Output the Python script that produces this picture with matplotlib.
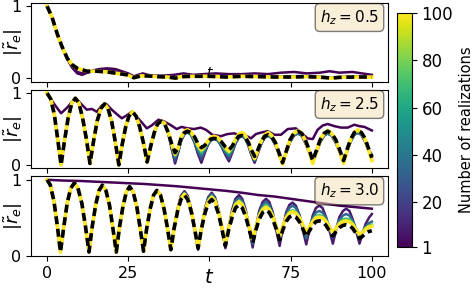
import matplotlib.pyplot as plt
from matplotlib import colors, cm

# ---- h_z = 0.5 panel ----
p1_t = [0, 1.5, 3.1, 4.6, 6.2, 7.7, 9.3, 10.8, 12.3, 15.4, 18.5, 21.6, 24.7, 26.7, 28.8, 30.9,
        34.0, 37.0, 39.6, 41.2, 45, 50, 55, 60, 65, 70, 75, 80, 85, 87.4, 90, 95, 100]
p1_exact = [1.0, 0.85, 0.62, 0.44, 0.28, 0.19, 0.14, 0.12, 0.10, 0.10, 0.09, 0.07, 0.05, 0.01, 0.035, 0.035,
            0.025, 0.02, 0.005, 0.025, 0.03, 0.03, 0.02, 0.03, 0.025, 0.02, 0.02, 0.025, 0.015, 0.005, 0.015, 0.02, 0.02]
p1_n3 = [1.0, 0.85, 0.62, 0.44, 0.27, 0.16, 0.09, 0.07, 0.08, 0.11, 0.12, 0.09, 0.06, 0.02, 0.05, 0.04,
         0.03, 0.03, 0.01, 0.03, 0.04, 0.04, 0.03, 0.04, 0.03, 0.03, 0.03, 0.035, 0.02, 0.01, 0.02, 0.03, 0.025]
p1_n1_t = [0, 1.5, 3.1, 4.6, 6.2, 7.7, 9.3, 10.8, 12.3, 14, 16, 18.5, 21, 23, 25, 26.7, 28, 29.5, 31, 33,
           36, 39, 42, 45, 48, 52, 56, 60, 64, 68, 72, 76, 80, 84, 87, 90, 94, 97, 100]
p1_n1 = [1.0, 0.85, 0.62, 0.44, 0.27, 0.15, 0.07, 0.05, 0.08, 0.11, 0.13, 0.14, 0.13, 0.10, 0.07, 0.03, 0.05, 0.07, 0.05, 0.04,
         0.04, 0.05, 0.07, 0.05, 0.06, 0.07, 0.06, 0.06, 0.07, 0.06, 0.08, 0.09, 0.07, 0.08, 0.10, 0.08, 0.09, 0.07, 0.05]

# ---- h_z = 2.5 panel ----
p2_t_head = [0, 1.1, 2.2, 3.2, 4.3, 5.4, 6.5, 7.6, 8.7, 9.8, 10.9, 12.1, 13.2, 14.3, 15.4, 16.6, 17.7,
             18.8, 19.9, 21.0, 22.1, 23.1, 24.2, 25.2, 26.3, 27.4, 28.5, 29.7, 30.8, 31.9, 33.0, 34.0, 35.1]
p2_head = [1.0, 0.92, 0.71, 0.38, 0.0, 0.35, 0.66, 0.86, 0.93, 0.86, 0.66, 0.36, 0.02, 0.33, 0.61, 0.79, 0.85,
           0.78, 0.60, 0.32, 0.0, 0.28, 0.53, 0.68, 0.74, 0.68, 0.53, 0.30, 0.04, 0.26, 0.45, 0.57, 0.61]
p2_t_tail = [36.2, 37.3, 38.3, 39.4, 40.4, 41.3, 42.3, 43.2, 44.3, 45.4, 46.4, 47.5, 48.5, 49.5, 50.4, 51.4,
             52.6, 53.7, 54.9, 56.0, 57.0, 58.0, 59.0, 60.0, 61.0, 62.0, 62.9, 63.9, 64.9, 66.0, 67.0, 68.1,
             69.2, 70.3, 71.4, 72.5, 73.7, 74.8, 76.0, 77.2, 78.4, 79.5, 80.7, 81.8, 83.0, 84.1, 85.3, 86.4,
             87.6, 88.9, 90.1, 91.3, 92.4, 93.5, 94.6, 95.7, 96.8, 97.9, 98.9, 100]
p2_exact_tail = [0.57, 0.45, 0.30, 0.17, 0.24, 0.38, 0.45, 0.47, 0.45, 0.39, 0.30, 0.24, 0.27, 0.32, 0.36, 0.37,
                 0.36, 0.32, 0.25, 0.21, 0.26, 0.34, 0.40, 0.41, 0.39, 0.31, 0.21, 0.12, 0.21, 0.33, 0.40, 0.42,
                 0.39, 0.31, 0.17, 0.03, 0.20, 0.35, 0.44, 0.47, 0.44, 0.35, 0.21, 0.06, 0.21, 0.35, 0.44, 0.47,
                 0.44, 0.35, 0.21, 0.06, 0.22, 0.36, 0.45, 0.48, 0.45, 0.37, 0.24, 0.10]
p2_n100_tail = [0.58, 0.46, 0.30, 0.15, 0.24, 0.39, 0.47, 0.49, 0.46, 0.38, 0.28, 0.21, 0.26, 0.33, 0.38, 0.40,
                0.38, 0.32, 0.24, 0.19, 0.26, 0.36, 0.43, 0.45, 0.42, 0.32, 0.20, 0.09, 0.20, 0.34, 0.42, 0.45,
                0.41, 0.31, 0.16, 0.01, 0.19, 0.35, 0.44, 0.48, 0.44, 0.34, 0.19, 0.02, 0.19, 0.35, 0.44, 0.48,
                0.44, 0.34, 0.19, 0.02, 0.20, 0.36, 0.45, 0.49, 0.45, 0.36, 0.22, 0.06]
p2_n70_tail = [0.57, 0.45, 0.28, 0.13, 0.22, 0.37, 0.45, 0.47, 0.44, 0.36, 0.25, 0.17, 0.23, 0.31, 0.36, 0.38,
               0.36, 0.30, 0.21, 0.16, 0.23, 0.34, 0.41, 0.43, 0.40, 0.30, 0.19, 0.08, 0.19, 0.33, 0.40, 0.43,
               0.39, 0.30, 0.16, 0.03, 0.19, 0.34, 0.43, 0.46, 0.43, 0.33, 0.19, 0.05, 0.19, 0.34, 0.43, 0.46,
               0.43, 0.33, 0.19, 0.05, 0.20, 0.35, 0.44, 0.47, 0.44, 0.35, 0.22, 0.09]
p2_n40_tail = [0.57, 0.44, 0.27, 0.10, 0.20, 0.35, 0.43, 0.45, 0.42, 0.33, 0.21, 0.12, 0.20, 0.29, 0.34, 0.36,
               0.34, 0.27, 0.18, 0.12, 0.20, 0.31, 0.38, 0.40, 0.37, 0.28, 0.17, 0.07, 0.18, 0.31, 0.38, 0.41,
               0.37, 0.28, 0.15, 0.04, 0.18, 0.32, 0.41, 0.44, 0.41, 0.32, 0.19, 0.08, 0.18, 0.32, 0.41, 0.44,
               0.41, 0.32, 0.19, 0.08, 0.19, 0.33, 0.42, 0.45, 0.42, 0.33, 0.21, 0.13]
p2_n20_tail = [0.57, 0.44, 0.25, 0.05, 0.19, 0.34, 0.43, 0.46, 0.42, 0.32, 0.18, 0.07, 0.18, 0.28, 0.34, 0.37,
               0.34, 0.26, 0.16, 0.08, 0.18, 0.30, 0.38, 0.40, 0.37, 0.27, 0.15, 0.05, 0.17, 0.30, 0.38, 0.41,
               0.37, 0.28, 0.15, 0.04, 0.18, 0.32, 0.41, 0.44, 0.41, 0.31, 0.18, 0.07, 0.18, 0.32, 0.41, 0.44,
               0.41, 0.31, 0.18, 0.07, 0.19, 0.33, 0.42, 0.45, 0.42, 0.33, 0.21, 0.13]
p2_n5_tail = [0.58, 0.44, 0.24, 0.02, 0.18, 0.34, 0.44, 0.47, 0.43, 0.31, 0.16, 0.03, 0.16, 0.28, 0.35, 0.38,
              0.35, 0.26, 0.14, 0.05, 0.17, 0.30, 0.38, 0.41, 0.37, 0.27, 0.14, 0.03, 0.16, 0.30, 0.38, 0.41,
              0.38, 0.28, 0.15, 0.04, 0.18, 0.32, 0.41, 0.44, 0.41, 0.31, 0.18, 0.06, 0.18, 0.32, 0.41, 0.44,
              0.41, 0.31, 0.18, 0.06, 0.19, 0.33, 0.42, 0.45, 0.42, 0.33, 0.22, 0.14]
p2_n1_t = [0, 2.0, 4.3, 6.2, 7.7, 9.0, 10.7, 12.2, 13.8, 15.3, 16.9, 18.2, 19.9, 21.4, 23.0, 24.5, 26.1, 27.6, 29.2,
           30.7, 32.2, 34.3, 35.8, 37.9, 39.9, 41.4, 43.2, 45.3, 47.3, 48.9, 50.9, 53.5, 55.5, 57.6, 59.1, 60.7,
           62.8, 64.3, 65.8, 67.9, 70.0, 72.0, 74.1, 76.6, 78.7, 80.2, 81.8, 83.3, 84.9, 86.4, 88.5, 90.5, 92.6,
           94.6, 96.2, 97.7, 100]
p2_n1 = [1.0, 0.86, 0.72, 0.80, 0.88, 0.92, 0.84, 0.77, 0.78, 0.74, 0.83, 0.85, 0.77, 0.71, 0.65, 0.69, 0.74, 0.67, 0.59,
         0.51, 0.55, 0.63, 0.61, 0.56, 0.50, 0.53, 0.51, 0.50, 0.52, 0.49, 0.42, 0.40, 0.43, 0.44, 0.42, 0.42,
         0.37, 0.43, 0.45, 0.47, 0.42, 0.42, 0.50, 0.51, 0.43, 0.37, 0.36, 0.49, 0.55, 0.57, 0.54, 0.52, 0.52,
         0.56, 0.54, 0.53, 0.48]

# ---- h_z = 3.0 panel ----
p3_t_head = [0, 1.0, 2.1, 3.1, 4.1, 5.2, 6.2, 7.3, 8.4, 9.5, 10.7, 11.8, 12.9, 13.9, 15.0, 16.0, 17.0, 18.1, 19.2,
             20.2, 21.3, 22.3, 23.4, 24.4, 25.4, 26.5, 27.6, 28.6, 29.7, 30.7, 31.8, 32.8, 33.8, 34.9, 36.0, 37.0, 38.1]
p3_head = [1.0, 0.93, 0.72, 0.41, 0.05, 0.40, 0.70, 0.89, 0.96, 0.89, 0.69, 0.39, 0.05, 0.39, 0.68, 0.86, 0.93, 0.86, 0.67,
           0.38, 0.05, 0.38, 0.66, 0.84, 0.91, 0.84, 0.65, 0.38, 0.06, 0.37, 0.63, 0.80, 0.86, 0.80, 0.62, 0.38, 0.08]
p3_t_tail = [39.1, 40.2, 41.2, 42.3, 43.3, 44.4, 45.4, 46.5, 47.5, 48.6, 49.6, 50.7, 51.7, 52.8, 53.8, 54.9,
             55.9, 57.0, 58.0, 59.1, 60.1, 61.2, 62.2, 63.3, 64.3, 65.3, 66.4, 67.4, 68.4, 69.5, 70.5, 71.6,
             72.6, 73.6, 74.6, 75.6, 76.6, 77.7, 78.7, 79.8, 80.8, 81.8, 82.8, 83.8, 84.8, 85.9, 86.9, 88.0,
             89.0, 90.0, 91.1, 92.1, 93.1, 94.1, 95.2, 96.2, 97.2, 98.1, 99.1, 100]
p3_exact_tail = [0.36, 0.59, 0.74, 0.80, 0.74, 0.58, 0.36, 0.10, 0.35, 0.56, 0.69, 0.74, 0.69, 0.55, 0.36, 0.13,
                 0.34, 0.51, 0.63, 0.67, 0.63, 0.51, 0.35, 0.17, 0.34, 0.48, 0.57, 0.60, 0.57, 0.48, 0.36, 0.21,
                 0.34, 0.45, 0.51, 0.53, 0.51, 0.45, 0.36, 0.25, 0.33, 0.40, 0.45, 0.46, 0.45, 0.40, 0.33, 0.26,
                 0.32, 0.37, 0.40, 0.41, 0.40, 0.36, 0.29, 0.23, 0.26, 0.30, 0.32, 0.33]
p3_n100_tail = [0.36, 0.60, 0.75, 0.81, 0.75, 0.59, 0.37, 0.11, 0.36, 0.58, 0.71, 0.77, 0.72, 0.58, 0.39, 0.16,
                0.37, 0.55, 0.67, 0.71, 0.67, 0.55, 0.39, 0.21, 0.38, 0.52, 0.61, 0.64, 0.61, 0.52, 0.40, 0.26,
                0.39, 0.50, 0.56, 0.58, 0.56, 0.50, 0.41, 0.30, 0.38, 0.45, 0.50, 0.51, 0.50, 0.45, 0.38, 0.30,
                0.36, 0.42, 0.45, 0.46, 0.45, 0.41, 0.34, 0.28, 0.31, 0.35, 0.38, 0.39]
p3_n70_tail = [0.36, 0.60, 0.76, 0.82, 0.76, 0.59, 0.37, 0.11, 0.36, 0.59, 0.73, 0.79, 0.74, 0.59, 0.39, 0.15,
               0.37, 0.56, 0.69, 0.73, 0.69, 0.56, 0.39, 0.19, 0.38, 0.54, 0.63, 0.67, 0.63, 0.53, 0.40, 0.25,
               0.39, 0.51, 0.58, 0.60, 0.58, 0.51, 0.41, 0.29, 0.38, 0.47, 0.52, 0.54, 0.52, 0.47, 0.39, 0.29,
               0.37, 0.44, 0.48, 0.49, 0.48, 0.43, 0.35, 0.28, 0.32, 0.37, 0.40, 0.41]
p3_n35_tail = [0.36, 0.61, 0.77, 0.83, 0.77, 0.60, 0.37, 0.10, 0.36, 0.60, 0.75, 0.81, 0.75, 0.60, 0.38, 0.13,
               0.37, 0.58, 0.72, 0.76, 0.72, 0.58, 0.38, 0.16, 0.37, 0.56, 0.67, 0.71, 0.67, 0.55, 0.38, 0.20,
               0.38, 0.54, 0.63, 0.66, 0.63, 0.53, 0.39, 0.23, 0.37, 0.50, 0.57, 0.59, 0.57, 0.50, 0.38, 0.24,
               0.36, 0.47, 0.53, 0.55, 0.53, 0.46, 0.35, 0.23, 0.31, 0.38, 0.43, 0.45]
p3_n8_tail = [0.37, 0.62, 0.79, 0.85, 0.79, 0.61, 0.36, 0.08, 0.36, 0.62, 0.77, 0.83, 0.77, 0.61, 0.37, 0.10,
              0.37, 0.61, 0.75, 0.80, 0.75, 0.60, 0.36, 0.11, 0.36, 0.59, 0.71, 0.75, 0.71, 0.57, 0.35, 0.13,
              0.36, 0.57, 0.67, 0.70, 0.66, 0.54, 0.35, 0.15, 0.35, 0.53, 0.63, 0.66, 0.63, 0.51, 0.34, 0.16,
              0.34, 0.51, 0.59, 0.62, 0.59, 0.48, 0.32, 0.16, 0.30, 0.42, 0.50, 0.55]
p3_n1_t = [0, 5, 10, 15, 20, 25, 30, 35, 40, 45, 50, 55, 60, 65, 70, 75, 80, 85, 90, 95, 100]
p3_n1 = [1.0, 0.99, 0.985, 0.975, 0.965, 0.955, 0.945, 0.93, 0.915, 0.895, 0.875, 0.855, 0.83, 0.80, 0.78,
         0.75, 0.72, 0.69, 0.66, 0.64, 0.62]

fields = ["0.5", "2.5", "3.0"]
xticks = [0, 25, 50, 75, 100]
xticklabels = ["0", "25", "", "75", "100"]

p2_t = p2_t_head + p2_t_tail
p3_t = p3_t_head + p3_t_tail
panels = [
    ([(1, p1_n1_t, p1_n1), (3, p1_t, p1_n3), (100, p1_t, p1_exact)], p1_t, p1_exact),
    ([(1, p2_n1_t, p2_n1), (5, p2_t, p2_head + p2_n5_tail), (20, p2_t, p2_head + p2_n20_tail),
      (40, p2_t, p2_head + p2_n40_tail), (70, p2_t, p2_head + p2_n70_tail),
      (100, p2_t, p2_head + p2_n100_tail)], p2_t, p2_head + p2_exact_tail),
    ([(1, p3_n1_t, p3_n1), (8, p3_t, p3_head + p3_n8_tail), (35, p3_t, p3_head + p3_n35_tail),
      (70, p3_t, p3_head + p3_n70_tail), (100, p3_t, p3_head + p3_n100_tail)], p3_t, p3_head + p3_exact_tail),
]

cmap = plt.get_cmap('viridis')
norm = colors.Normalize(vmin=1, vmax=100)

fig = plt.figure(figsize=(4.75, 2.89), dpi=100)
axes = [fig.add_axes([0.065, 0.716, 0.752, 0.275]),
        fig.add_axes([0.065, 0.417, 0.752, 0.273]),
        fig.add_axes([0.065, 0.114, 0.752, 0.277])]
cax = fig.add_axes([0.835, 0.144, 0.032, 0.812])

for ax, (runs, t_ex, v_ex), hz in zip(axes, panels, fields):
    for n, t, v in runs:
        ax.plot(t, v, color=cmap(norm(n)), lw=2.6 if n == 100 else 1.8)
    ax.plot(t_ex, v_ex, color='k', lw=2.6, dashes=(2.2, 1.3))
    ax.set_xlim(-5, 105)
    ax.set_ylim(-0.05, 1.05)
    ax.set_xticks(xticks)
    ax.set_xticklabels(xticklabels)
    ax.set_yticks([0, 1])
    ax.tick_params(labelsize=11.5)
    ax.set_ylabel(r'$|\tilde{r}_e|$', fontsize=13, labelpad=-10)
    ax.text(0.975, 0.93, r'$h_z = %s$' % hz, transform=ax.transAxes, ha='right', va='top', fontsize=11,
            bbox=dict(boxstyle='round', facecolor='wheat', alpha=0.5))

axes[2].set_ylim(-0.003, 1.05)
axes[0].tick_params(labelbottom=False)
axes[1].tick_params(labelbottom=False)
axes[0].text(0.5, 0.11, '$t$', transform=axes[0].transAxes, ha='center', va='center', fontsize=10)
axes[2].set_xlabel('$t$', fontsize=14, labelpad=-9)

cb = fig.colorbar(cm.ScalarMappable(norm=norm, cmap=cmap), cax=cax, ticks=[1, 20, 40, 60, 80, 100])
cb.ax.tick_params(labelsize=12)
cb.set_label('Number of realizations', fontsize=10.5)

fig.savefig('out.png', dpi=100)
